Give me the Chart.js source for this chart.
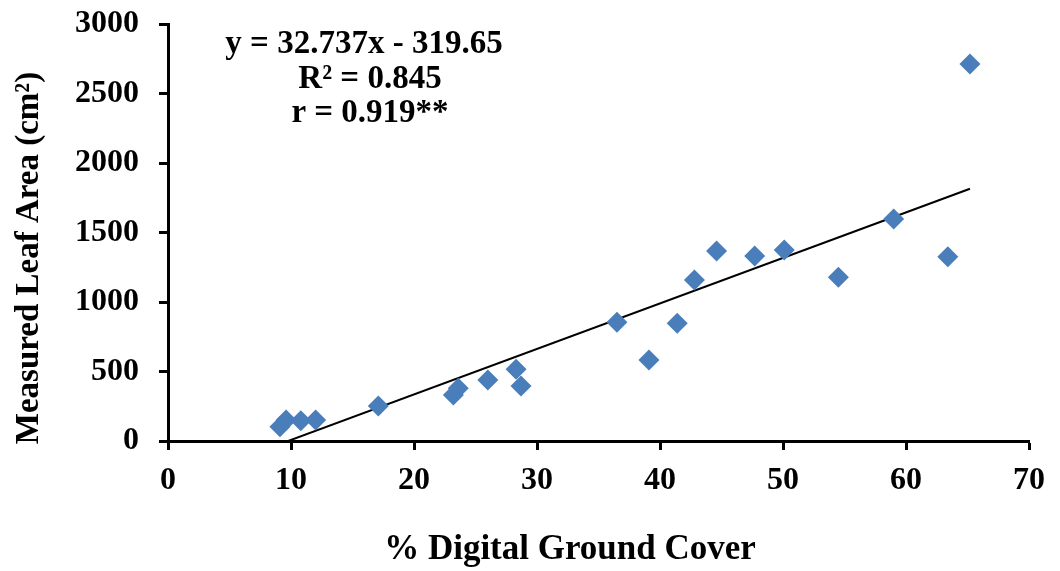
<!DOCTYPE html>
<html>
<head>
<meta charset="utf-8">
<script src="https://cdn.jsdelivr.net/npm/chart.js@4/dist/chart.umd.min.js"></script>
<style>
  html,body{margin:0;padding:0;background:#fff;}
  #wrap{width:1060px;height:571px;position:relative;}
</style>
</head>
<body>
<div id="wrap"><canvas id="leafChart" width="1060" height="571"></canvas></div>
<script>
// digital ground cover (%) vs measured leaf area (cm2)
var groundCover=[9.1,9.6,10.8,12.0,17.1,23.2,23.6,26.0,28.3,28.7,36.5,39.1,41.4,42.8,44.6,47.7,50.1,54.5,59.0,63.4,65.2];
var leafArea=[103,151,146,151,252,331,379,439,516,396,854,583,847,1158,1367,1331,1374,1178,1597,1326,2712];

// trendline as printed on the chart
var slope=32.737;
var intercept=-319.65;
var eqLines=["y = 32.737x - 319.65","R\u00b2 = 0.845","r = 0.919**"];

var xTitle="% Digital Ground Cover";
var yTitle="Measured Leaf Area (cm\u00b2)";

var points=[];
for(var i=0;i<groundCover.length;i++){
    points.push({x:groundCover[i],y:leafArea[i]});
}
var xMin=Math.min.apply(null,groundCover);
var xMax=Math.max.apply(null,groundCover);
var trend=[
    {x:xMin,y:slope*xMin+intercept},
    {x:xMax,y:slope*xMax+intercept}
];

var serif="'Liberation Serif','Times New Roman',serif";

// axis titles and equation text
var textPlugin={
    id:"textPlugin",
    afterDraw:function(chart){
        var ctx=chart.ctx;
        ctx.save();
        ctx.fillStyle="#000";
        ctx.textAlign="center";
        ctx.textBaseline="alphabetic";

        ctx.font="bold 33px "+serif;
        ctx.fillText(eqLines[0],364,53);
        ctx.fillText(eqLines[1],370,88);
        ctx.fillText(eqLines[2],370,122);

        ctx.font="bold 35px "+serif;
        ctx.fillText(xTitle,570,559);

        ctx.translate(29,258);
        ctx.rotate(-Math.PI/2);
        ctx.textBaseline="middle";
        ctx.font="bold 33px "+serif;
        ctx.fillText(yTitle,0,0);
        ctx.restore();
    }
};

var tickFont={family:serif,size:32,weight:"bold"};

var ctx=document.getElementById("leafChart").getContext("2d");
var leafChart=new Chart(ctx,{
    type:"scatter",
    data:{
        datasets:[
            {
                label:"Leaf area",
                data:points,
                pointStyle:"rectRot",
                pointRadius:10.5,
                pointBorderWidth:0,
                backgroundColor:"#4a7ebb",
                borderColor:"#4a7ebb"
            },
            {
                label:"Linear",
                type:"line",
                data:trend,
                borderColor:"#000",
                borderWidth:2,
                pointRadius:0,
                fill:false
            }
        ]
    },
    options:{
        responsive:false,
        animation:false,
        layout:{padding:{top:24,right:31,bottom:0,left:0}},
        plugins:{
            legend:{display:false},
            tooltip:{enabled:false}
        },
        scales:{
            x:{
                type:"linear",
                min:0,
                max:70,
                ticks:{stepSize:10,color:"#000",font:tickFont,padding:12,maxRotation:0},
                grid:{drawOnChartArea:false,color:"#000",tickLength:9,tickWidth:3},
                border:{color:"#000",width:3},
                afterFit:function(scale){
                    scale.height=130;
                    scale.paddingLeft=0;
                    scale.paddingRight=0;
                }
            },
            y:{
                min:0,
                max:3000,
                ticks:{
                    stepSize:500,color:"#000",font:tickFont,padding:20,
                    callback:function(v){return String(v);}
                },
                grid:{drawOnChartArea:false,color:"#000",tickLength:9,tickWidth:3},
                border:{color:"#000",width:3},
                afterFit:function(scale){
                    scale.width=168;
                    scale.paddingTop=0;
                    scale.paddingBottom=0;
                }
            }
        }
    },
    plugins:[textPlugin]
});
</script>
</body>
</html>
